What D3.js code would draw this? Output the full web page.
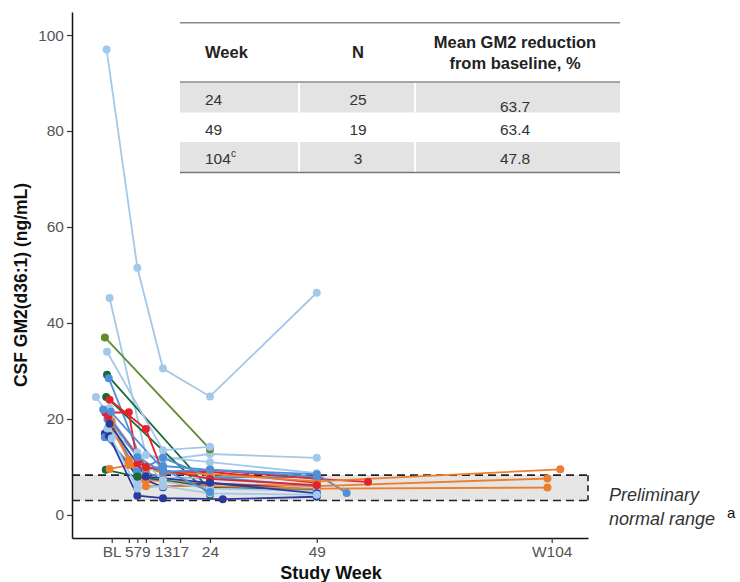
<!DOCTYPE html>
<html>
<head>
<meta charset="utf-8">
<script src="https://cdn.jsdelivr.net/npm/d3@7"></script>
<style>
  body { margin: 0; background: #fff; }
  svg { display: block; font-family: "Liberation Sans", Arial, sans-serif; }
</style>
</head>
<body>
<svg id="chart" width="740" height="582"></svg>
<script>
// x ticks (study week) and their labels
const tickWeeks = [1, 5, 7, 9, 13, 17, 24, 49, 104];
const tickLabels = ["BL", "5", "7", "9", "13", "17", "24", "49", "W104"];
const yTicks = [0, 20, 40, 60, 80, 100];

// preliminary normal range (ng/mL)
const normalRange = [3.0, 8.3];

// one entry per participant: colour group, weeks, CSF GM2 values
const subjectGroups = [
  "light", "light", "olive", "dkgreen", "mid", "light", "light", "dkgreen",
  "red", "red", "light", "mid", "orange", "dkblue", "mid", "dkgreen",
  "orange", "orange", "dkblue", "light", "red", "mid", "dkblue", "light", "mid"
];
const subjectWeeks = [
  [-0.2, 7, 13, 24, 49],
  [0.5, 9, 13, 24, 49],
  [-0.6, 24],
  [-0.1, 24],
  [0.3, 9, 13, 24, 49],
  [-0.1, 13, 24],
  [-2.7, 7, 13, 24, 49],
  [-0.3, 24],
  [0.5, 9, 13, 24, 49, 61],
  [-0.5, 5, 7, 13, 24, 49],
  [0.5, 7, 13, 24],
  [0, 7, 13, 24, 49, 56],
  [0.5, 5, 9, 24, 49, 103],
  [-0.6, 7, 13, 24, 49],
  [-0.6, 7, 13, 24, 49],
  [-0.4, 7, 24, 49],
  [0.5, 5, 9, 13, 24, 49, 106],
  [1, 5, 9, 24, 49, 103],
  [0.3, 7, 13, 27, 49],
  [0, 7, 13, 24, 49],
  [0.2, 9, 24, 49],
  [-1, 7, 13, 24, 49],
  [0.5, 9, 24, 49],
  [1, 7, 13, 24, 49],
  [0.8, 13, 24]
];
const subjectValues = [
  [97, 51.5, 30.5, 24.7, 46.3],
  [45.2, 12.5, 11.5, 12.7, 11.9],
  [37, 13.7],
  [29.2, 5.2],
  [28.5, 9, 7.5, 7.9, 7.9],
  [34, 13.5, 14.2],
  [24.6, 12.5, 12, 11, 8.7],
  [24.6, 4.2],
  [24, 17.9, 8.8, 9.4, 7.5, 6.9],
  [21.3, 21.4, 10.8, 8.8, 9, 6.7],
  [22.3, 6.7, 7.3, 8],
  [20, 9, 10.2, 9.4, 8.5, 4.6],
  [18.8, 11.5, 7.3, 6.5, 6, 7.6],
  [17, 8, 5.8, 6.7, 5.2],
  [16.2, 9, 11.9, 7.9, 6],
  [9.4, 8, 5.8, 5.2],
  [9.6, 10.4, 9.8, 8.8, 8.5, 7, 9.5],
  [19.5, 11, 6, 6, 5.5, 5.7],
  [16.5, 4, 3.5, 3.3, 3.8],
  [18, 13, 7, 5.5, 5],
  [20.5, 10, 7.5, 6.2],
  [22, 12, 9, 9.4, 8],
  [19, 8, 6.7, 4.5],
  [16, 5.5, 6, 4.5, 4.2],
  [21.5, 9.5, 4.8]
];

// summary table
const tableWeeks = ["24", "49", "104"];
const tableN = ["25", "19", "3"];
const tableReduction = ["63.7", "63.4", "47.8"];

const groupColor = {
  light: "#a2c8ea",
  mid: "#4f8fd7",
  dkblue: "#2c3a9e",
  red: "#e4222a",
  orange: "#ee7e2c",
  dkgreen: "#17693a",
  olive: "#5f8c2e"
};

const svg = d3.select("#chart");

const x = d3.scaleLinear().domain([-8.3, 112.5]).range([72, 588]);
const y = d3.scaleLinear().domain([-4.8, 104.8]).range([538, 12]);

// normal range band
svg.append("rect")
  .attr("x", x.range()[0])
  .attr("y", y(normalRange[1]))
  .attr("width", x.range()[1] - x.range()[0])
  .attr("height", y(normalRange[0]) - y(normalRange[1]))
  .attr("fill", "#e5e5e5");

const dash = "8,5";
[normalRange[0], normalRange[1]].forEach(v => {
  svg.append("line")
    .attr("x1", x.range()[0]).attr("x2", x.range()[1])
    .attr("y1", y(v)).attr("y2", y(v))
    .attr("stroke", "#222").attr("stroke-width", 1.6)
    .attr("stroke-dasharray", dash);
});
svg.append("line")
  .attr("x1", x.range()[1]).attr("x2", x.range()[1])
  .attr("y1", y(normalRange[1])).attr("y2", y(normalRange[0]))
  .attr("stroke", "#222").attr("stroke-width", 1.6)
  .attr("stroke-dasharray", "6,4");

// table
const tbl = svg.append("g");
const tLeft = 180, tRight = 620;
const rowTops = [82.5, 112, 142];
const rowH = 30;
[0, 2].forEach(i => {
  tbl.append("rect")
    .attr("x", tLeft).attr("y", rowTops[i])
    .attr("width", tRight - tLeft).attr("height", rowH)
    .attr("fill", "#e3e3e3");
  [299, 415].forEach(sx => {
    tbl.append("line")
      .attr("x1", sx).attr("x2", sx)
      .attr("y1", rowTops[i]).attr("y2", rowTops[i] + rowH)
      .attr("stroke", "#fff").attr("stroke-width", 2);
  });
});
[[22.7, "#8a8a8a"], [82, "#8a8a8a"], [172.5, "#777"]].forEach(([ly, c]) => {
  tbl.append("line")
    .attr("x1", tLeft).attr("x2", tRight)
    .attr("y1", ly).attr("y2", ly)
    .attr("stroke", c).attr("stroke-width", 1.5);
});

const headStyle = t => t.attr("font-weight", "bold").attr("font-size", 16.5).attr("fill", "#222");
headStyle(tbl.append("text").attr("x", 205).attr("y", 57.5).text("Week"));
headStyle(tbl.append("text").attr("x", 358).attr("y", 57.5).attr("text-anchor", "middle").text("N"));
headStyle(tbl.append("text").attr("x", 515).attr("y", 47.5).attr("text-anchor", "middle").text("Mean GM2 reduction"));
headStyle(tbl.append("text").attr("x", 515).attr("y", 68.5).attr("text-anchor", "middle").text("from baseline, %"));

const rowTextY = [104.5, 134.5, 163.5];
tableWeeks.forEach((w, i) => {
  const wt = tbl.append("text").attr("x", 205).attr("y", rowTextY[i])
    .attr("font-size", 15.5).attr("fill", "#333").text(w);
  if (w === "104") {
    wt.append("tspan").attr("dy", -7).attr("font-size", 10).text("c");
  }
  tbl.append("text").attr("x", 358).attr("y", rowTextY[i])
    .attr("text-anchor", "middle").attr("font-size", 15.5).attr("fill", "#333").text(tableN[i]);
  tbl.append("text").attr("x", 515).attr("y", rowTextY[i] + (i === 0 ? 7 : 0))
    .attr("text-anchor", "middle").attr("font-size", 15.5).attr("fill", "#333").text(tableReduction[i]);
});

// participant lines, then points
const subjects = subjectWeeks.map((wk, i) => ({
  color: groupColor[subjectGroups[i]],
  pts: wk.map((w, j) => ({ week: w, value: subjectValues[i][j] }))
}));

const line = d3.line().x(d => x(d.week)).y(d => y(d.value));

svg.append("g").selectAll("path")
  .data(subjects)
  .enter().append("path")
  .attr("d", d => line(d.pts))
  .attr("fill", "none")
  .attr("stroke", d => d.color)
  .attr("stroke-width", 1.8);

svg.append("g").selectAll("g")
  .data(subjects)
  .enter().append("g")
  .attr("fill", d => d.color)
  .selectAll("circle")
  .data(d => d.pts)
  .enter().append("circle")
  .attr("cx", d => x(d.week))
  .attr("cy", d => y(d.value))
  .attr("r", 4);

// axes
const xAxis = d3.axisBottom(x)
  .tickValues(tickWeeks)
  .tickFormat((d, i) => tickLabels[i])
  .tickSize(5).tickSizeOuter(0).tickPadding(3);
const yAxis = d3.axisLeft(y)
  .tickValues(yTicks)
  .tickSize(5).tickSizeOuter(0).tickPadding(3);

const gx = svg.append("g").attr("transform", "translate(0," + y.range()[0] + ")").call(xAxis);
const gy = svg.append("g").attr("transform", "translate(" + x.range()[0] + ",0)").call(yAxis);
[gx, gy].forEach(g => {
  g.select(".domain").attr("stroke", "#111").attr("stroke-width", 1.5);
  g.selectAll(".tick line").attr("stroke", "#333").attr("stroke-width", 1.2);
  g.selectAll(".tick text")
    .attr("font-size", 15.5)
    .attr("font-family", "Liberation Sans, Arial, sans-serif")
    .attr("fill", "#555");
});

// axis titles
svg.append("text")
  .attr("x", 331).attr("y", 579)
  .attr("text-anchor", "middle")
  .attr("font-weight", "bold").attr("font-size", 18).attr("fill", "#111")
  .text("Study Week");

svg.append("text")
  .attr("transform", "translate(27,285) rotate(-90)")
  .attr("text-anchor", "middle")
  .attr("font-weight", "bold").attr("font-size", 17.5).attr("fill", "#111")
  .text("CSF GM2(d36:1) (ng/mL)");

// normal range annotation
svg.append("text")
  .attr("x", 609).attr("y", 501)
  .attr("font-style", "italic").attr("font-size", 18).attr("fill", "#333")
  .text("Preliminary");
svg.append("text")
  .attr("x", 609).attr("y", 525)
  .attr("font-style", "italic").attr("font-size", 18).attr("fill", "#333")
  .text("normal range");
svg.append("text")
  .attr("x", 727).attr("y", 518)
  .attr("font-size", 15).attr("fill", "#111")
  .text("a");
</script>
</body>
</html>
